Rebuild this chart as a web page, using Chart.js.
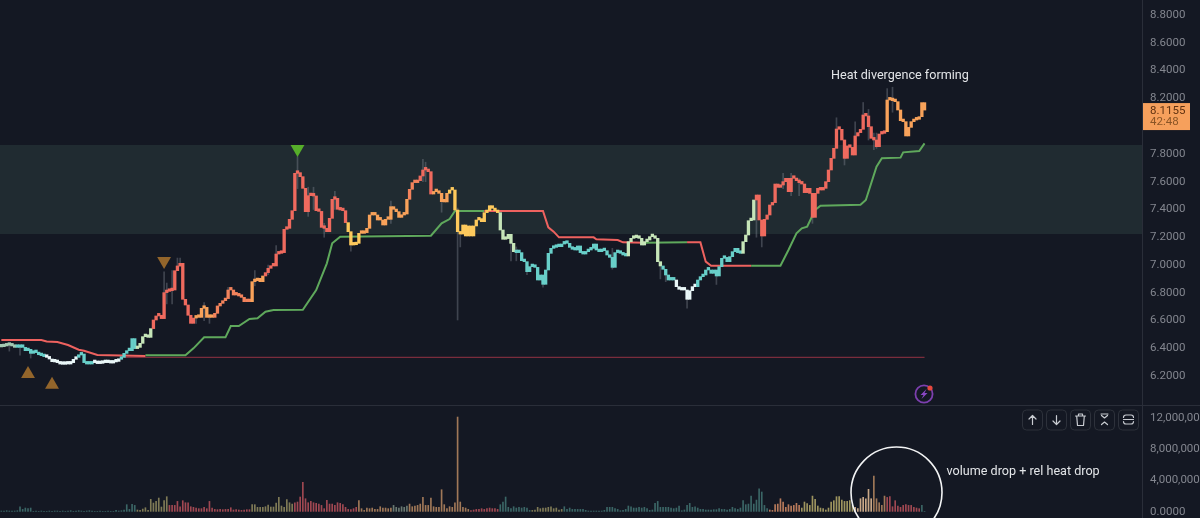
<!DOCTYPE html>
<html>
<head>
<meta charset="utf-8">
<title>Heat chart</title>
<script src="https://cdn.jsdelivr.net/npm/chart.js@4/dist/chart.umd.min.js"></script>
<style>
  html, body { margin: 0; padding: 0; background: #141823; overflow: hidden; }
  canvas { display: block; }
</style>
</head>
<body>
<canvas id="heatChart" width="1200" height="518"></canvas>
<script>
const firstOpen = 6.41;

// closing price of each candle, the open is the close before it
const closes = [
  6.412, 6.417, 6.422, 6.422, 6.417, 6.407, 6.407, 6.417, 6.407, 6.383,
  6.393, 6.364, 6.378, 6.369, 6.354, 6.347, 6.340, 6.335, 6.323, 6.304,
  6.302, 6.297, 6.287, 6.285, 6.292, 6.287, 6.297, 6.321, 6.335, 6.352,
  6.359, 6.297, 6.287, 6.287, 6.297, 6.297, 6.290, 6.292, 6.299, 6.297,
  6.297, 6.294, 6.302, 6.306, 6.321, 6.335, 6.364, 6.383, 6.383, 6.470,
  6.398, 6.407, 6.436, 6.484, 6.494, 6.479, 6.542, 6.604, 6.633, 6.638,
  6.614, 6.801, 6.810, 6.815, 6.820, 6.959, 6.993, 7.012, 6.753, 6.712,
  6.638, 6.580, 6.618, 6.628, 6.623, 6.688, 6.695, 6.623, 6.623, 6.623,
  6.652, 6.705, 6.724, 6.743, 6.758, 6.820, 6.820, 6.784, 6.784, 6.777,
  6.767, 6.736, 6.736, 6.736, 6.880, 6.887, 6.904, 6.880, 6.921, 6.945,
  6.976, 6.993, 6.993, 7.079, 7.084, 7.089, 7.257, 7.264, 7.329, 7.391,
  7.660, 7.665, 7.636, 7.552, 7.384, 7.499, 7.504, 7.497, 7.391, 7.386,
  7.271, 7.264, 7.240, 7.336, 7.473, 7.480, 7.401, 7.396, 7.391, 7.305,
  7.240, 7.144, 7.146, 7.156, 7.228, 7.228, 7.233, 7.264, 7.360, 7.360,
  7.360, 7.324, 7.324, 7.288, 7.329, 7.329, 7.420, 7.401, 7.384, 7.343,
  7.360, 7.367, 7.473, 7.545, 7.593, 7.593, 7.607, 7.641, 7.684, 7.691,
  7.672, 7.511, 7.528, 7.528, 7.516, 7.456, 7.454, 7.516, 7.540, 7.540,
  7.396, 7.240, 7.223, 7.288, 7.209, 7.281, 7.209, 7.281, 7.324, 7.334,
  7.312, 7.377, 7.391, 7.427, 7.408, 7.391, 7.377, 7.252, 7.185, 7.190,
  7.221, 7.156, 7.096, 7.089, 7.089, 7.031, 7.024, 6.952, 6.988, 6.988,
  6.983, 6.892, 6.928, 6.861, 6.964, 7.084, 7.120, 7.127, 7.137, 7.132,
  7.151, 7.161, 7.156, 7.127, 7.113, 7.108, 7.137, 7.089, 7.079, 7.096,
  7.108, 7.120, 7.151, 7.108, 7.096, 7.108, 7.103, 7.072, 7.055, 6.983,
  7.089, 7.089, 7.084, 7.072, 7.065, 7.168, 7.192, 7.197, 7.199, 7.192,
  7.144, 7.168, 7.180, 7.204, 7.209, 7.192, 7.024, 6.993, 6.969, 6.928,
  6.892, 6.904, 6.892, 6.844, 6.825, 6.820, 6.820, 6.753, 6.815, 6.844,
  6.844, 6.892, 6.916, 6.928, 6.964, 6.964, 6.940, 6.964, 6.921, 6.988,
  7.048, 7.055, 7.024, 7.060, 7.096, 7.120, 7.089, 7.084, 7.168, 7.216,
  7.319, 7.324, 7.468, 7.504, 7.324, 7.209, 7.329, 7.360, 7.432, 7.449,
  7.583, 7.559, 7.576, 7.600, 7.624, 7.528, 7.624, 7.624, 7.607, 7.593,
  7.583, 7.521, 7.552, 7.516, 7.343, 7.516, 7.552, 7.540, 7.552, 7.600,
  7.684, 7.768, 7.840, 7.979, 7.977, 7.900, 7.768, 7.857, 7.847, 7.792,
  7.929, 7.953, 7.977, 8.080, 8.073, 7.996, 7.912, 7.900, 7.852, 7.943,
  7.948, 7.960, 8.188, 8.188, 8.183, 8.176, 8.116, 8.039, 8.032, 7.929,
  7.991, 8.032, 8.044, 8.049, 8.068, 8.169, 8.1155
];

// [bar, low, high], only the wicks that stick out of the staircase
const wicks = [
  [3, 6.38, 6.43], [7, 6.35, 6.42], [11, 6.33, 6.37], [61, 6.72, 6.95], [62, 6.72, 6.87],
  [64, 6.72, 6.96], [66, 6.99, 7.05], [67, 6.99, 7.05], [73, 6.58, 6.63], [76, 6.6, 6.73],
  [78, 6.58, 6.64], [85, 6.78, 6.84], [95, 6.85, 6.96], [100, 6.93, 7.0], [103, 7.0, 7.14],
  [111, 7.55, 7.78], [115, 7.35, 7.56], [117, 7.4, 7.56], [121, 7.2, 7.3], [125, 7.4, 7.53],
  [131, 7.1, 7.2], [146, 7.3, 7.46], [158, 7.6, 7.76], [159, 7.6, 7.74], [165, 7.38, 7.5],
  [171, 6.604, 7.41], [172, 7.13, 7.24], [191, 7.03, 7.2], [193, 7.03, 7.13], [197, 6.93, 7.0],
  [203, 6.84, 6.92], [229, 6.97, 7.12], [247, 6.9, 7.0], [249, 6.88, 6.95], [257, 6.69, 6.78],
  [268, 6.86, 6.95], [283, 7.2, 7.5], [285, 7.13, 7.22], [293, 7.55, 7.66], [296, 7.5, 7.66],
  [299, 7.5, 7.62], [304, 7.3, 7.4], [313, 7.9, 8.06], [316, 7.72, 7.9], [320, 7.9, 8.03],
  [323, 8.0, 8.17], [325, 7.9, 8.12], [327, 7.83, 7.95], [328, 7.84, 7.95], [332, 8.1, 8.27],
  [334, 8.1, 8.28]
];

// volume per bar, in millions
const volumes = [
  .13, .13, .17, .13, .13, .13, .17, .68, .34, .51,
  .43, .51, .09, .13, .09, .13, .09, .09, .13, .09,
  .13, .13, .09, .13, .09, .13, .17, .09, .13, .17,
  .13, .09, .13, .17, .13, .09, .09, .13, .09, .09,
  .13, .09, .09, .21, .13, .17, .26, .94, .34, .98,
  .85, .26, .21, .38, .55, .21, 1.62, 1.15, 1.36, 1.79,
  .64, 1.45, 1.96, .85, .85, .85, 1.36, .68, 1.45, 1.19,
  1.19, .68, .60, .51, .43, .43, .60, .43, 1.36, .51,
  .34, .30, .34, .30, .34, .34, .55, .26, .30, .26,
  .21, .26, .30, .30, .94, .94, .60, .60, .60, .68,
  .89, .64, .64, 1.15, 1.87, .77, .60, 1.58, 1.19, 1.02,
  1.19, 1.28, 1.92, 3.79, 1.70, 1.19, 1.36, 1.19, 1.11, 1.02,
  .85, .43, 1.49, 1.02, 1.02, .85, 1.19, 1.11, .94, .60,
  .34, .30, .43, .60, 1.45, .43, .21, .51, .43, .51,
  .34, .34, .68, .51, .51, .43, .51, .85, .60, .51,
  .68, .60, .77, 1.02, .68, .77, .85, 1.02, 1.87, .85,
  .85, 1.79, .68, .60, .60, 2.85, .94, .43, .68, .60,
  1.19, 12.14, 1.28, .60, .51, .34, .17, .26, .34, .34,
  .43, .34, .43, .51, .43, .43, .34, .94, 1.28, 1.92,
  .60, .43, .68, .51, .60, .51, .60, .51, .21, .21,
  .26, .60, .43, .51, .51, .60, .68, .43, .51, .26,
  .34, .68, .34, .51, .34, .34, .34, .34, .34, .21,
  .13, .13, .13, .13, .13, .13, .21, .60, .60, .60,
  .43, .34, .17, .21, .34, .77, .68, .51, .51, .60,
  .51, .60, .43, .21, .26, 1.11, 1.36, .60, .60, .60,
  .60, .51, .43, .51, .77, .17, .26, .85, 1.11, .60,
  .68, .51, .34, .34, .26, .26, .26, .30, .30, .43,
  .34, .34, .26, .34, .60, .43, .34, .51, 1.45, .94,
  1.02, 2.04, 1.02, 1.53, 2.98, 2.56, .85, .43, .26, .21,
  .94, 1.02, 1.70, 1.28, .60, .94, .77, .85, 1.11, .85,
  .51, 1.28, 1.07, .85, 2.04, 1.62, .77, .51, .43, .26,
  .51, 1.28, 1.45, 1.96, 1.96, 1.53, 1.36, 1.36, 1.45, .85,
  .60, .43, 1.70, 1.87, 1.70, 2.90, 1.70, 4.60, 1.70, 1.19,
  .85, 2.04, 1.87, 1.96, .68, 1.45, .77, .60, .85, .94,
  .85, .85, .60, .51, .43, .85, .09
];

// trailing stops as [bar, price], null breaks the line where the stop flips side
const upperStop = [
  [0, 6.46], [15, 6.46], [17, 6.45], [21, 6.446], [25, 6.424], [29, 6.39], [31, 6.383],
  [36, 6.352], [54, 6.345], [55, null],
  [181, 7.389], [203, 7.389], [205, 7.271], [207, 7.24], [209, 7.199], [222, 7.199],
  [223, 7.185], [231, 7.18], [233, 7.163], [241, 7.161], [242, null],
  [257, 7.163], [262, 7.163], [264, 7.024], [266, 6.995], [281, 6.995]
];
const lowerStop = [
  [54, 6.35], [69, 6.35], [72, 6.40], [76, 6.479], [84, 6.479], [86, 6.561], [89, 6.561],
  [93, 6.611], [96, 6.616], [99, 6.664], [102, 6.676], [113, 6.678], [118, 6.82], [122, 7.012],
  [124, 7.156], [127, 7.204], [152, 7.209], [161, 7.211], [165, 7.30], [168, 7.331],
  [170, 7.389], [181, 7.389], [182, null],
  [241, 7.161], [257, 7.163], [258, null],
  [281, 6.995], [292, 6.995], [295, 7.108], [298, 7.228], [300, 7.264], [302, 7.276],
  [305, 7.396], [307, 7.427], [322, 7.434], [324, 7.468], [328, 7.708], [330, 7.768],
  [337, 7.773], [338, 7.811], [344, 7.821], [346, 7.876]
];
const floorLevel = 6.335;
const floorBars = [46, 346];

const zoneTop = 7.864;
const zoneBottom = 7.223;

// signal triangles as [bar, price]
const upSignals = [[10, 6.215], [19, 6.138]];
const downSignals = [[61, 7.029]];
const peakSignals = [[111, 7.835]];

const heatColors = {
  c: '#a3c9b2', t: '#68cfc9', w: '#eaf7f8', g: '#c6e5b8',
  r: '#ef6a5e', s: '#f3835c', o: '#f8a25a', y: '#fdc95c'
};
// colour runs along the candles, [key, number of bars]
const heatRuns = [
  ['c', 6], ['t', 11], ['w', 12], ['t', 6], ['w', 10], ['t', 6], ['g', 6], ['r', 16],
  ['o', 7], ['s', 14], ['o', 5], ['r', 31], ['y', 5], ['o', 18], ['s', 4], ['r', 5],
  ['o', 6], ['y', 19], ['g', 6], ['t', 42], ['g', 13], ['t', 5], ['w', 8], ['t', 17],
  ['g', 5], ['r', 49], ['o', 15]
];

const volumeColors = {
  t: '#3b6666', v: '#7f7a56', r: '#a04852', n: '#a07858',
  e: '#6a7a72', p: '#b87a5b', l: '#9e955f', m: '#c9a888'
};
const volumeRuns = [
  ['t', 51], ['v', 12], ['r', 31], ['v', 16], ['r', 24], ['n', 13], ['e', 6], ['n', 23],
  ['r', 11], ['t', 12], ['v', 12], ['t', 77], ['p', 12], ['l', 20], ['m', 7], ['n', 5],
  ['r', 13], ['t', 2]
];

const priceTicks = [6.2, 6.4, 6.6, 6.8, 7.0, 7.2, 7.4, 7.6, 7.8, 8.0, 8.2, 8.4, 8.6, 8.8];
const volumeTicks = [0, 4, 8, 12];
const countdown = '42:48';

const BAR_SLOTS = 428;
const AXIS_FONT = 'Roboto, "Noto Sans", sans-serif';

const expandRuns = (runs, colors) => runs.flatMap(([key, n]) => Array(n).fill(colors[key]));
const toPoints = pairs => pairs.map(([x, y]) => ({ x, y }));

const candleColors = expandRuns(heatRuns, heatColors);
const volumeBarColors = expandRuns(volumeRuns, volumeColors);
const candles = closes.map((c, i) => [i ? closes[i - 1] : firstOpen, c]);
const lastClose = closes[closes.length - 1];

// fixed axis column and no label padding, so the panes run edge to edge
const fitPaneAxis = scale => {
  scale.width = 58;
  scale.paddingTop = 0;
  scale.paddingBottom = 0;
};

// band behind the candles
const zonePlugin = {
  id: 'zone',
  beforeDatasetsDraw(chart) {
    const { ctx, chartArea, scales } = chart;
    const top = scales.y.getPixelForValue(zoneTop);
    const bottom = scales.y.getPixelForValue(zoneBottom);
    ctx.save();
    ctx.fillStyle = '#202b31';
    ctx.fillRect(chartArea.left, top, chartArea.right - chartArea.left, bottom - top);
    ctx.restore();
  }
};

function roundedButton(ctx, x, y, w, h) {
  ctx.strokeStyle = '#2d313b';
  ctx.lineWidth = 1;
  ctx.beginPath();
  ctx.roundRect(x + 0.5, y + 0.5, w, h, 4);
  ctx.stroke();
}

function drawPaneButtons(ctx) {
  const xs = [1022, 1046, 1070, 1094, 1118];
  const y = 409.5;
  xs.forEach(x => roundedButton(ctx, x, y, 20, 20));
  ctx.strokeStyle = '#c8cbd1';
  ctx.lineWidth = 1.2;
  ctx.lineCap = 'round';
  ctx.lineJoin = 'round';

  // up arrow
  let cx = xs[0] + 10.5;
  ctx.beginPath();
  ctx.moveTo(cx, y + 15); ctx.lineTo(cx, y + 6);
  ctx.moveTo(cx - 3.5, y + 9.5); ctx.lineTo(cx, y + 6); ctx.lineTo(cx + 3.5, y + 9.5);
  ctx.stroke();

  // down arrow
  cx = xs[1] + 10.5;
  ctx.beginPath();
  ctx.moveTo(cx, y + 6); ctx.lineTo(cx, y + 15);
  ctx.moveTo(cx - 3.5, y + 11.5); ctx.lineTo(cx, y + 15); ctx.lineTo(cx + 3.5, y + 11.5);
  ctx.stroke();

  // bin
  cx = xs[2] + 10.5;
  ctx.beginPath();
  ctx.moveTo(cx - 5, y + 6.5); ctx.lineTo(cx + 5, y + 6.5);
  ctx.moveTo(cx - 2, y + 6.5); ctx.lineTo(cx - 2, y + 4.5); ctx.lineTo(cx + 2, y + 4.5); ctx.lineTo(cx + 2, y + 6.5);
  ctx.moveTo(cx - 3.8, y + 6.5); ctx.lineTo(cx - 3, y + 16); ctx.lineTo(cx + 3, y + 16); ctx.lineTo(cx + 3.8, y + 6.5);
  ctx.stroke();

  // collapse
  cx = xs[3] + 10.5;
  ctx.beginPath();
  ctx.moveTo(cx - 3.5, y + 4.5); ctx.lineTo(cx + 3.5, y + 4.5);
  ctx.moveTo(cx - 3, y + 6); ctx.lineTo(cx, y + 8.5); ctx.lineTo(cx + 3, y + 6);
  ctx.moveTo(cx - 3, y + 15); ctx.lineTo(cx, y + 12.5); ctx.lineTo(cx + 3, y + 15);
  ctx.stroke();

  // maximise
  cx = xs[4] + 10.5;
  ctx.beginPath();
  ctx.moveTo(cx - 5, y + 8); ctx.quadraticCurveTo(cx - 5, y + 5.5, cx - 2.5, y + 5.5);
  ctx.lineTo(cx + 2.5, y + 5.5); ctx.quadraticCurveTo(cx + 5, y + 5.5, cx + 5, y + 8);
  ctx.moveTo(cx - 5, y + 12); ctx.quadraticCurveTo(cx - 5, y + 14.5, cx - 2.5, y + 14.5);
  ctx.lineTo(cx + 2.5, y + 14.5); ctx.quadraticCurveTo(cx + 5, y + 14.5, cx + 5, y + 12);
  ctx.moveTo(cx - 5, y + 10); ctx.lineTo(cx + 5, y + 10);
  ctx.stroke();
}

function drawBoltBadge(ctx) {
  ctx.strokeStyle = '#7c3fae';
  ctx.lineWidth = 1.8;
  ctx.beginPath();
  ctx.arc(924, 394, 8.6, 0, Math.PI * 2);
  ctx.stroke();
  ctx.fillStyle = '#8a47c4';
  ctx.beginPath();
  ctx.moveTo(926.5, 389);
  ctx.lineTo(920.5, 395);
  ctx.lineTo(923.5, 395);
  ctx.lineTo(921.5, 399);
  ctx.lineTo(927.5, 393);
  ctx.lineTo(924.5, 393);
  ctx.closePath();
  ctx.fill();
  ctx.fillStyle = '#e5483f';
  ctx.beginPath();
  ctx.arc(930, 388, 2.6, 0, Math.PI * 2);
  ctx.fill();
}

// separators, price tag, notes and the pane toolbar go on top of everything
const overlayPlugin = {
  id: 'overlay',
  afterDraw(chart) {
    const { ctx, chartArea, scales } = chart;
    const paneEdge = scales.y.bottom;
    ctx.save();

    ctx.strokeStyle = '#2a2e39';
    ctx.lineWidth = 1;
    ctx.beginPath();
    ctx.moveTo(0, Math.round(paneEdge) + 0.5);
    ctx.lineTo(chart.width, Math.round(paneEdge) + 0.5);
    ctx.stroke();

    // last price tag
    const tagY = scales.y.getPixelForValue(lastClose);
    ctx.fillStyle = '#f6a05c';
    ctx.fillRect(chartArea.right + 1, tagY - 7, 47, 27);
    ctx.font = '11.5px ' + AXIS_FONT;
    ctx.textAlign = 'left';
    ctx.textBaseline = 'middle';
    ctx.fillStyle = '#5f3110';
    ctx.fillText(lastClose.toFixed(4), 1150, tagY + 1);
    ctx.fillStyle = '#8a5526';
    ctx.fillText(countdown, 1150, tagY + 12.5);

    // notes
    ctx.fillStyle = '#e3e5e8';
    ctx.font = '12.6px ' + AXIS_FONT;
    ctx.fillText('Heat divergence forming', 831, 75.5);
    ctx.fillText('volume drop + rel heat drop', 946.5, 471.5);

    ctx.strokeStyle = '#f2f3f4';
    ctx.lineWidth = 1.6;
    ctx.beginPath();
    ctx.arc(896.5, 492.5, 45.5, 0, Math.PI * 2);
    ctx.stroke();

    drawPaneButtons(ctx);
    drawBoltBadge(ctx);
    ctx.restore();
  }
};

const barSlots = Array.from({ length: BAR_SLOTS }, (_, i) => i);

new Chart(document.getElementById('heatChart'), {
  type: 'bar',
  data: {
    labels: barSlots,
    datasets: [
      {
        label: 'Volume',
        data: volumes,
        yAxisID: 'vol',
        backgroundColor: volumeBarColors,
        barPercentage: 0.62,
        categoryPercentage: 1,
        grouped: false,
        order: 6
      },
      {
        label: 'Wicks',
        data: wicks.map(([x, low, high]) => ({ x, y: [low, high] })),
        yAxisID: 'y',
        backgroundColor: 'rgba(140,146,158,0.36)',
        barThickness: 1,
        grouped: false,
        order: 5
      },
      {
        label: 'Floor',
        type: 'line',
        data: floorBars.map(x => ({ x, y: floorLevel })),
        yAxisID: 'y',
        borderColor: '#7a2c3c',
        borderWidth: 1.2,
        pointRadius: 0,
        order: 4
      },
      {
        label: 'Upper stop',
        type: 'line',
        data: toPoints(upperStop),
        yAxisID: 'y',
        borderColor: '#ee625f',
        borderWidth: 2,
        pointRadius: 0,
        tension: 0,
        order: 3
      },
      {
        label: 'Lower stop',
        type: 'line',
        data: toPoints(lowerStop),
        yAxisID: 'y',
        borderColor: '#5fa95c',
        borderWidth: 2,
        pointRadius: 0,
        tension: 0,
        order: 3
      },
      {
        label: 'Candles',
        data: candles,
        yAxisID: 'y',
        backgroundColor: candleColors,
        barPercentage: 1,
        categoryPercentage: 1,
        minBarLength: 2.6,
        grouped: false,
        order: 2
      },
      {
        label: 'Buy signal',
        type: 'line',
        data: toPoints(upSignals),
        yAxisID: 'y',
        showLine: false,
        pointStyle: 'triangle',
        pointRadius: 8,
        pointBorderWidth: 0,
        pointBackgroundColor: '#93652b',
        order: 1
      },
      {
        label: 'Sell signal',
        type: 'line',
        data: toPoints(downSignals),
        yAxisID: 'y',
        showLine: false,
        pointStyle: 'triangle',
        pointRotation: 180,
        pointRadius: 8,
        pointBorderWidth: 0,
        pointBackgroundColor: '#93652b',
        order: 1
      },
      {
        label: 'Peak signal',
        type: 'line',
        data: toPoints(peakSignals),
        yAxisID: 'y',
        showLine: false,
        pointStyle: 'triangle',
        pointRotation: 180,
        pointRadius: 8,
        pointBorderWidth: 0,
        pointBackgroundColor: '#56ae2a',
        order: 1
      }
    ]
  },
  options: {
    responsive: false,
    animation: false,
    events: [],
    layout: { padding: 0, autoPadding: false },
    plugins: { legend: { display: false }, tooltip: { enabled: false } },
    scales: {
      x: {
        type: 'category',
        display: false,
        offset: true
      },
      y: {
        type: 'linear',
        position: 'right',
        stack: 'panes',
        stackWeight: 405,
        min: 5.992,
        max: 8.908,
        grid: { display: false, drawTicks: false },
        border: { display: true, color: '#2a2e39' },
        afterFit: fitPaneAxis,
        afterBuildTicks: scale => { scale.ticks = priceTicks.map(value => ({ value })); },
        ticks: {
          autoSkip: false,
          crossAlign: 'near',
          padding: 8,
          color: '#83868f',
          font: { family: AXIS_FONT, size: 11.5 },
          callback: v => v.toFixed(4)
        }
      },
      vol: {
        type: 'linear',
        position: 'right',
        stack: 'panes',
        stackWeight: 113,
        min: -0.805,
        max: 13.636,
        grid: { display: false, drawTicks: false },
        border: { display: true, color: '#2a2e39' },
        afterFit: fitPaneAxis,
        afterBuildTicks: scale => { scale.ticks = volumeTicks.map(value => ({ value })); },
        ticks: {
          autoSkip: false,
          crossAlign: 'near',
          padding: 8,
          color: '#83868f',
          font: { family: AXIS_FONT, size: 11.5 },
          callback: v => (v === 0 ? '0.0000' : (v * 1e6).toLocaleString('en-US'))
        }
      }
    }
  },
  plugins: [zonePlugin, overlayPlugin]
});
</script>
</body>
</html>
